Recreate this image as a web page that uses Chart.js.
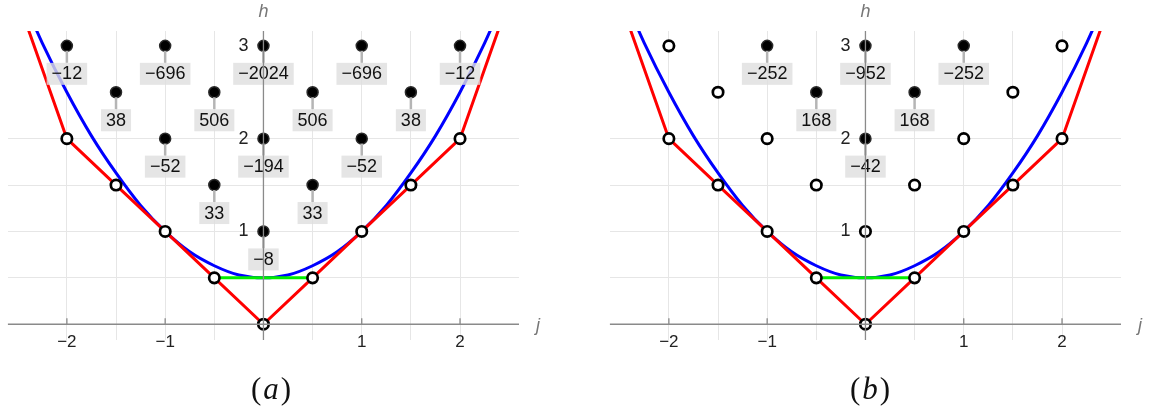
<!DOCTYPE html>
<html>
<head>
<meta charset="utf-8">
<script src="https://cdn.jsdelivr.net/npm/chart.js@4.4.1/dist/chart.umd.min.js"></script>
<style>
  html, body { margin: 0; padding: 0; background: #fff; }
  body { width: 1149px; height: 407px; position: relative; overflow: hidden; }
  canvas { position: absolute; top: 0; }
  #chartA { left: 0; }
  #chartB { left: 602px; }
  .caption {
    position: absolute; top: 368px; width: 100px; text-align: center;
    font: 31px "Liberation Serif", "DejaVu Serif", serif; color: #111; line-height: 42px;
    letter-spacing: 2px;
  }
</style>
</head>
<body>
<canvas id="chartA" width="575" height="407"></canvas>
<canvas id="chartB" width="547" height="407"></canvas>
<div class="caption" style="left:222px">(<i>a</i>)</div>
<div class="caption" style="left:821px">(<i>b</i>)</div>
<script>
// axes / grid
const jGrid = [-2, -1.5, -1, -0.5, 0, 0.5, 1, 1.5, 2];
const hGrid = [0.5, 1, 1.5, 2];
const jLabels = [-2, -1, 1, 2];
const hLabels = [1, 2, 3];

// curves
const redJ = [-2.5, -2, -1.5, -1, -0.5, 0, 0.5, 1, 1.5, 2, 2.5];
const redH = [3.5, 2, 1.5, 1, 0.5, 0, 0.5, 1, 1.5, 2, 3.5];
const blueJ = [-2.5, -2.25, -2, -1.75, -1.5, -1.25, -1, -0.75, -0.5, -0.25, 0, 0.25, 0.5, 0.75, 1, 1.25, 1.5, 1.75, 2, 2.25, 2.5];
const blueH = [3.63, 3.03, 2.5, 2.03, 1.63, 1.28, 1, 0.78, 0.63, 0.53, 0.5, 0.53, 0.63, 0.78, 1, 1.28, 1.63, 2.03, 2.5, 3.03, 3.63];
const greenJ = [-0.5, 0.5];
const greenH = [0.5, 0.5];

// panel (a)
const filledJA = [-2, -1, 0, 1, 2, -1.5, -0.5, 0.5, 1.5, -1, 0, 1, -0.5, 0.5, 0];
const filledHA = [3, 3, 3, 3, 3, 2.5, 2.5, 2.5, 2.5, 2, 2, 2, 1.5, 1.5, 1];
const coeffsA = [-12, -696, -2024, -696, -12, 38, 506, 506, 38, -52, -194, -52, 33, 33, -8];
const hollowJA = [-2, -1.5, -1, -0.5, 0, 0.5, 1, 1.5, 2];
const hollowHA = [2, 1.5, 1, 0.5, 0, 0.5, 1, 1.5, 2];

// panel (b)
const filledJB = [-1, 0, 1, -0.5, 0.5, 0];
const filledHB = [3, 3, 3, 2.5, 2.5, 2];
const coeffsB = [-252, -952, -252, 168, 168, -42];
const hollowJB = [-2, 2, -1.5, 1.5, -2, -1, 1, 2, -1.5, -0.5, 0.5, 1.5, -1, 0, 1, -0.5, 0.5, 0];
const hollowHB = [3, 3, 2.5, 2.5, 2, 2, 2, 2, 1.5, 1.5, 1.5, 1.5, 1, 1, 1, 0.5, 0.5, 0];

const zip = (xs, ys) => xs.map((x, i) => ({ x, y: ys[i] }));
const fmt = v => (v < 0 ? '\u2212' + Math.abs(v) : String(v));
const FONT = '"Liberation Sans", Arial, sans-serif';

const latticePlugin = {
    id: 'lattice',
    afterDatasetsDraw(chart, args, opts) {
        const ctx = chart.ctx;
        const xs = chart.scales.x, ys = chart.scales.y;
        const area = chart.chartArea;
        const x0 = xs.getPixelForValue(0);
        const y0 = ys.getPixelForValue(0);
        ctx.save();

        // coefficient boxes under filled points
        const meta = chart.getDatasetMeta(0);
        ctx.font = '18px ' + FONT;
        ctx.textAlign = 'center';
        ctx.textBaseline = 'middle';
        meta.data.forEach((pt, i) => {
            const txt = fmt(opts.coeffs[i]);
            const w = ctx.measureText(txt).width + 10;
            ctx.strokeStyle = '#b5b5b5';
            ctx.lineWidth = 2.5;
            ctx.beginPath();
            ctx.moveTo(pt.x, pt.y + 5);
            ctx.lineTo(pt.x, pt.y + 17);
            ctx.stroke();
            ctx.fillStyle = 'rgba(222,222,222,0.8)';
            ctx.fillRect(pt.x - w / 2, pt.y + 17, w, 22);
            ctx.fillStyle = '#111';
            ctx.fillText(txt, pt.x, pt.y + 28.5);
        });

        // axes
        ctx.strokeStyle = '#8a8a8a';
        ctx.lineWidth = 1.3;
        ctx.beginPath();
        ctx.moveTo(area.left, y0); ctx.lineTo(area.right, y0);
        ctx.moveTo(x0, area.top); ctx.lineTo(x0, area.bottom);
        jLabels.forEach(j => {
            const px = xs.getPixelForValue(j);
            ctx.moveTo(px, y0 - 6); ctx.lineTo(px, y0);
        });
        ctx.stroke();

        ctx.fillStyle = '#222';
        ctx.font = '17px ' + FONT;
        ctx.textAlign = 'center';
        ctx.textBaseline = 'middle';
        jLabels.forEach(j => ctx.fillText(fmt(j), xs.getPixelForValue(j), y0 + 18));

        ctx.font = '18px ' + FONT;
        ctx.textAlign = 'right';
        hLabels.forEach(h => ctx.fillText(String(h), x0 - 15, ys.getPixelForValue(h)));

        ctx.fillStyle = '#777';
        ctx.font = 'italic 18px ' + FONT;
        ctx.textAlign = 'center';
        ctx.fillText('h', x0, 12);
        ctx.fillText('j', area.right + 19, y0 + 2);
        ctx.restore();
    }
};

function makeChart(id, filledJ, filledH, coeffs, hollowJ, hollowH, padRight) {
    return new Chart(document.getElementById(id), {
        type: 'scatter',
        data: {
            datasets: [
                {
                    data: zip(filledJ, filledH),
                    pointRadius: 5.5,
                    pointBackgroundColor: '#000',
                    pointBorderColor: '#2a2a2a',
                    pointBorderWidth: 1.5
                },
                {
                    data: zip(hollowJ, hollowH),
                    pointRadius: 5.2,
                    pointBackgroundColor: '#fff',
                    pointBorderColor: '#000',
                    pointBorderWidth: 2.7
                },
                {
                    data: zip(redJ, redH),
                    showLine: true, pointRadius: 0,
                    borderColor: '#ff0000', borderWidth: 3
                },
                {
                    data: zip(greenJ, greenH),
                    showLine: true, pointRadius: 0,
                    borderColor: '#00ee00', borderWidth: 3
                },
                {
                    data: zip(blueJ, blueH),
                    showLine: true, pointRadius: 0, tension: 0.3,
                    borderColor: '#0000ff', borderWidth: 3
                }
            ]
        },
        options: {
            responsive: false,
            animation: false,
            events: [],
            layout: { padding: { left: 7, right: padRight, top: 31, bottom: 67 } },
            plugins: {
                legend: { display: false },
                tooltip: { enabled: false },
                lattice: { coeffs }
            },
            scales: {
                x: {
                    type: 'linear', min: -2.6, max: 2.6,
                    afterBuildTicks: s => { s.ticks = jGrid.map(v => ({ value: v })); },
                    ticks: { display: false },
                    grid: { color: '#e6e6e6', lineWidth: 1, drawTicks: false },
                    border: { display: false }
                },
                y: {
                    type: 'linear', min: -0.17, max: 3.16,
                    afterBuildTicks: s => { s.ticks = hGrid.map(v => ({ value: v })); },
                    ticks: { display: false },
                    grid: { color: '#e6e6e6', lineWidth: 1, drawTicks: false },
                    border: { display: false }
                }
            }
        },
        plugins: [latticePlugin]
    });
}

makeChart('chartA', filledJA, filledHA, coeffsA, hollowJA, hollowHA, 56);
makeChart('chartB', filledJB, filledHB, coeffsB, hollowJB, hollowHB, 28);
</script>
</body>
</html>
